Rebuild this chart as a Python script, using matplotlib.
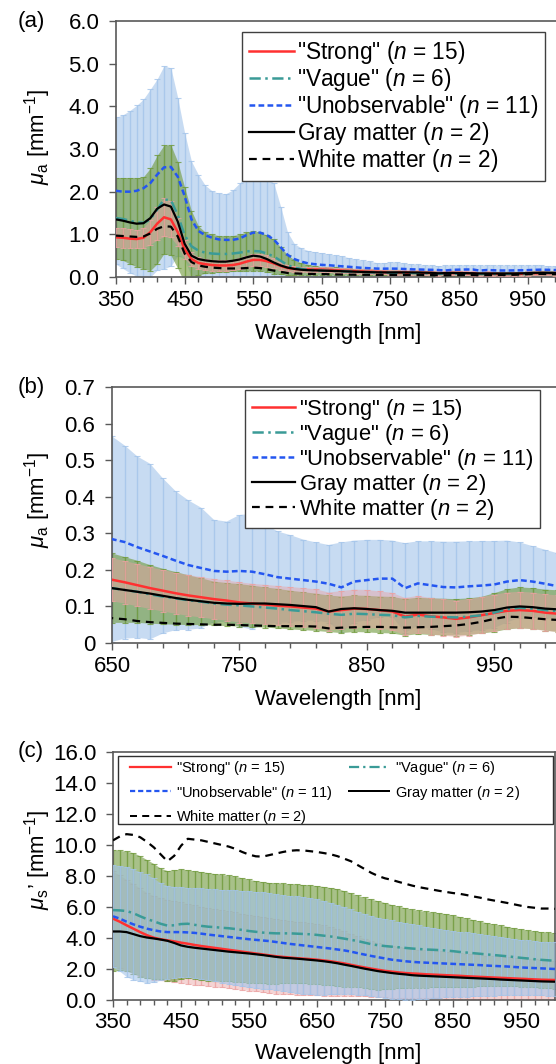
import numpy as np
import matplotlib
matplotlib.use("Agg")
import matplotlib.pyplot as plt
from matplotlib.lines import Line2D
from matplotlib.patches import Rectangle
from matplotlib.ticker import FixedLocator, FuncFormatter

plt.rcParams['font.family'] = ['Liberation Sans', 'DejaVu Sans']
plt.rcParams['mathtext.fontset'] = 'custom'
plt.rcParams['mathtext.rm'] = 'Liberation Sans'
plt.rcParams['mathtext.it'] = 'Liberation Sans:italic'

# DATA (10 nm steps from 350 to 1000 nm)
wavelength = np.arange(350, 1001, 10)

# absorption coefficient mu_a [mm^-1]
mua_strong = [0.93, 0.92, 0.90, 0.89, 0.92, 1.05, 1.25, 1.40, 1.35, 1.05,
              0.65, 0.42, 0.33, 0.30, 0.28, 0.27, 0.27, 0.28, 0.31, 0.36,
              0.40, 0.40, 0.37, 0.32, 0.26, 0.21, 0.19, 0.18, 0.177, 0.175,
              0.173, 0.166, 0.158, 0.150, 0.143, 0.136, 0.130, 0.125, 0.120, 0.116,
              0.111, 0.108, 0.105, 0.102, 0.100, 0.097, 0.094, 0.086, 0.090, 0.094,
              0.093, 0.090, 0.086, 0.072, 0.078, 0.073, 0.070, 0.066, 0.070, 0.076,
              0.082, 0.088, 0.090, 0.088, 0.083, 0.080]
mua_strong_sd = [0.23, 0.23, 0.22, 0.22, 0.24, 0.29, 0.38, 0.45, 0.42, 0.33,
                 0.22, 0.16, 0.14, 0.13, 0.13, 0.12, 0.12, 0.12, 0.13, 0.14,
                 0.15, 0.15, 0.14, 0.12, 0.10, 0.08, 0.07, 0.065, 0.062, 0.060,
                 0.059, 0.058, 0.058, 0.057, 0.057, 0.056, 0.056, 0.055, 0.055, 0.055,
                 0.055, 0.054, 0.054, 0.054, 0.053, 0.053, 0.053, 0.052, 0.052, 0.052,
                 0.052, 0.051, 0.051, 0.051, 0.051, 0.050, 0.050, 0.050, 0.050, 0.050,
                 0.050, 0.050, 0.050, 0.050, 0.050, 0.050]
mua_vague = [1.38, 1.36, 1.32, 1.28, 1.27, 1.35, 1.58, 1.82, 1.80, 1.45,
             0.98, 0.72, 0.62, 0.57, 0.55, 0.54, 0.54, 0.55, 0.57, 0.60,
             0.61, 0.60, 0.55, 0.48, 0.38, 0.28, 0.22, 0.19, 0.17, 0.16,
             0.150, 0.145, 0.140, 0.133, 0.127, 0.122, 0.117, 0.113, 0.108, 0.105,
             0.103, 0.100, 0.097, 0.094, 0.090, 0.087, 0.084, 0.080, 0.077, 0.080,
             0.079, 0.077, 0.076, 0.070, 0.074, 0.072, 0.071, 0.070, 0.072, 0.076,
             0.083, 0.092, 0.096, 0.094, 0.090, 0.087]
mua_vague_sd = [0.95, 0.97, 1.01, 1.04, 1.08, 1.20, 1.27, 1.27, 1.29, 1.25,
                1.12, 0.83, 0.58, 0.48, 0.45, 0.43, 0.42, 0.42, 0.43, 0.45,
                0.46, 0.45, 0.43, 0.40, 0.32, 0.24, 0.18, 0.14, 0.12, 0.105,
                0.095, 0.090, 0.085, 0.080, 0.076, 0.072, 0.068, 0.064, 0.060, 0.059,
                0.058, 0.057, 0.055, 0.054, 0.053, 0.052, 0.051, 0.050, 0.050, 0.050,
                0.050, 0.050, 0.050, 0.050, 0.050, 0.050, 0.050, 0.050, 0.050, 0.050,
                0.053, 0.055, 0.056, 0.056, 0.056, 0.057]
mua_unobs = [2.02, 2.00, 2.00, 2.02, 2.08, 2.20, 2.40, 2.57, 2.58, 2.35,
             1.90, 1.35, 1.08, 0.98, 0.92, 0.88, 0.87, 0.87, 0.90, 0.98,
             1.04, 1.04, 0.98, 0.88, 0.70, 0.52, 0.42, 0.36, 0.32, 0.30,
             0.284, 0.276, 0.262, 0.250, 0.238, 0.225, 0.213, 0.205, 0.197, 0.195,
             0.197, 0.195, 0.188, 0.180, 0.176, 0.172, 0.168, 0.162, 0.152, 0.168,
             0.172, 0.176, 0.176, 0.150, 0.163, 0.158, 0.153, 0.152, 0.155, 0.157,
             0.160, 0.168, 0.172, 0.168, 0.162, 0.155]
mua_unobs_sd = [1.72, 1.80, 1.90, 2.00, 2.09, 2.20, 2.24, 2.38, 2.32, 1.85,
                1.48, 1.36, 1.32, 1.17, 1.10, 1.08, 1.08, 1.17, 1.30, 1.40,
                1.41, 1.36, 1.34, 1.32, 0.95, 0.53, 0.36, 0.32, 0.30, 0.29,
                0.281, 0.264, 0.248, 0.240, 0.212, 0.190, 0.177, 0.165, 0.140, 0.137,
                0.153, 0.158, 0.137, 0.125, 0.119, 0.111, 0.107, 0.106, 0.123, 0.112,
                0.110, 0.106, 0.104, 0.123, 0.115, 0.120, 0.124, 0.125, 0.123, 0.122,
                0.119, 0.112, 0.103, 0.097, 0.093, 0.090]
mua_gray = [1.35, 1.32, 1.28, 1.25, 1.26, 1.38, 1.60, 1.70, 1.65, 1.30,
            0.78, 0.50, 0.42, 0.39, 0.37, 0.36, 0.36, 0.38, 0.41, 0.46,
            0.50, 0.48, 0.42, 0.34, 0.27, 0.22, 0.19, 0.17, 0.16, 0.155,
            0.150, 0.145, 0.140, 0.135, 0.129, 0.123, 0.118, 0.114, 0.110, 0.108,
            0.107, 0.108, 0.108, 0.106, 0.104, 0.101, 0.098, 0.086, 0.093, 0.095,
            0.093, 0.090, 0.088, 0.083, 0.083, 0.083, 0.083, 0.083, 0.084, 0.086,
            0.090, 0.097, 0.100, 0.098, 0.094, 0.092]
mua_white = [0.97, 0.96, 0.95, 0.94, 0.95, 1.02, 1.13, 1.19, 1.18, 0.95,
             0.55, 0.35, 0.27, 0.24, 0.22, 0.21, 0.20, 0.20, 0.20, 0.21,
             0.22, 0.21, 0.18, 0.15, 0.12, 0.095, 0.085, 0.078, 0.073, 0.070,
             0.068, 0.065, 0.060, 0.057, 0.055, 0.053, 0.052, 0.051, 0.050, 0.050,
             0.049, 0.048, 0.047, 0.046, 0.046, 0.046, 0.045, 0.040, 0.042, 0.043,
             0.044, 0.044, 0.043, 0.042, 0.043, 0.044, 0.046, 0.048, 0.052, 0.058,
             0.066, 0.072, 0.071, 0.068, 0.065, 0.063]

# reduced scattering coefficient mu_s' [mm^-1]
mus_strong = [5.25, 5.05, 4.82, 4.60, 4.38, 4.18, 4.02, 3.92, 3.85, 3.78,
              3.70, 3.63, 3.55, 3.48, 3.42, 3.36, 3.30, 3.24, 3.18, 3.12,
              3.06, 3.00, 2.94, 2.88, 2.82, 2.78, 2.74, 2.70, 2.67, 2.64,
              2.60, 2.55, 2.50, 2.43, 2.36, 2.27, 2.18, 2.10, 2.02, 1.95,
              1.88, 1.83, 1.78, 1.74, 1.71, 1.69, 1.66, 1.64, 1.62, 1.60,
              1.58, 1.56, 1.53, 1.51, 1.49, 1.47, 1.45, 1.43, 1.41, 1.39,
              1.37, 1.35, 1.33, 1.31, 1.30, 1.29]
mus_strong_sd = [3.05, 3.00, 2.95, 2.90, 2.82, 2.75, 2.70, 2.66, 2.63, 2.61,
                 2.60, 2.58, 2.56, 2.54, 2.52, 2.50, 2.49, 2.48, 2.47, 2.46,
                 2.45, 2.44, 2.43, 2.42, 2.41, 2.40, 2.38, 2.36, 2.34, 2.32,
                 2.30, 2.26, 2.21, 2.15, 2.08, 2.00, 1.93, 1.86, 1.80, 1.75,
                 1.70, 1.67, 1.64, 1.61, 1.58, 1.56, 1.54, 1.53, 1.52, 1.51,
                 1.50, 1.48, 1.46, 1.44, 1.42, 1.40, 1.38, 1.36, 1.34, 1.33,
                 1.32, 1.30, 1.29, 1.27, 1.26, 1.25]
mus_vague = [5.80, 5.78, 5.74, 5.60, 5.40, 5.22, 5.08, 4.92, 4.80, 4.82,
             4.90, 4.92, 4.85, 4.78, 4.73, 4.70, 4.66, 4.63, 4.58, 4.52,
             4.45, 4.40, 4.35, 4.32, 4.30, 4.30, 4.30, 4.28, 4.26, 4.24,
             4.20, 4.15, 4.10, 4.03, 3.96, 3.88, 3.80, 3.70, 3.60, 3.53,
             3.48, 3.44, 3.40, 3.36, 3.32, 3.29, 3.26, 3.24, 3.22, 3.19,
             3.15, 3.10, 3.06, 3.02, 2.98, 2.94, 2.90, 2.86, 2.82, 2.77,
             2.72, 2.68, 2.63, 2.59, 2.56, 2.53]
mus_vague_sd = [3.90, 3.87, 3.86, 3.90, 3.90, 3.83, 3.72, 3.58, 3.55, 3.58,
                3.55, 3.48, 3.47, 3.50, 3.49, 3.45, 3.44, 3.42, 3.40, 3.36,
                3.33, 3.30, 3.28, 3.26, 3.25, 3.22, 3.20, 3.20, 3.19, 3.18,
                3.18, 3.17, 3.15, 3.15, 3.09, 3.02, 2.95, 2.92, 2.90, 2.87,
                2.80, 2.71, 2.65, 2.59, 2.53, 2.49, 2.46, 2.42, 2.40, 2.38,
                2.33, 2.28, 2.22, 2.16, 2.10, 2.04, 2.00, 1.96, 1.92, 1.88,
                1.86, 1.82, 1.82, 1.81, 1.80, 1.80]
mus_unobs = [5.40, 5.25, 5.05, 4.88, 4.73, 4.60, 4.50, 4.42, 4.38, 4.38,
             4.38, 4.36, 4.33, 4.28, 4.22, 4.17, 4.12, 4.07, 4.02, 3.97,
             3.92, 3.88, 3.84, 3.80, 3.74, 3.68, 3.62, 3.57, 3.52, 3.47,
             3.42, 3.37, 3.32, 3.26, 3.20, 3.12, 3.02, 2.93, 2.84, 2.76,
             2.68, 2.60, 2.55, 2.50, 2.46, 2.43, 2.41, 2.39, 2.37, 2.35,
             2.33, 2.31, 2.29, 2.27, 2.25, 2.22, 2.20, 2.18, 2.16, 2.13,
             2.10, 2.08, 2.06, 2.04, 2.02, 2.00]
mus_unobs_sd = [3.30, 3.40, 3.55, 3.57, 3.52, 3.50, 3.35, 3.13, 3.00, 2.94,
                2.92, 2.89, 2.89, 2.92, 2.95, 2.97, 3.00, 3.03, 3.06, 3.09,
                3.11, 3.12, 3.13, 3.10, 3.08, 3.08, 3.10, 3.11, 3.12, 3.11,
                3.08, 3.03, 2.96, 2.89, 2.80, 2.73, 2.68, 2.63, 2.59, 2.56,
                2.54, 2.53, 2.49, 2.47, 2.44, 2.39, 2.33, 2.27, 2.21, 2.15,
                2.12, 2.09, 2.07, 2.04, 2.00, 1.96, 1.92, 1.88, 1.84, 1.82,
                1.80, 1.77, 1.74, 1.73, 1.74, 1.75]
mus_gray = [4.42, 4.42, 4.38, 4.25, 4.12, 4.03, 3.97, 3.90, 3.82, 3.68,
            3.52, 3.43, 3.37, 3.32, 3.27, 3.22, 3.17, 3.12, 3.08, 3.04,
            3.00, 2.95, 2.90, 2.84, 2.78, 2.73, 2.70, 2.67, 2.63, 2.59,
            2.55, 2.50, 2.44, 2.37, 2.28, 2.20, 2.11, 2.02, 1.94, 1.86,
            1.80, 1.74, 1.69, 1.65, 1.60, 1.57, 1.55, 1.53, 1.51, 1.49,
            1.47, 1.45, 1.43, 1.41, 1.39, 1.37, 1.35, 1.32, 1.30, 1.28,
            1.26, 1.24, 1.22, 1.20, 1.19, 1.18]
mus_white = [10.30, 10.55, 10.70, 10.65, 10.50, 10.20, 9.85, 9.40, 8.95, 9.30,
             9.95, 10.40, 10.35, 10.30, 10.20, 10.10, 10.00, 9.90, 9.75, 9.55,
             9.38, 9.27, 9.25, 9.35, 9.45, 9.55, 9.63, 9.66, 9.65, 9.60,
             9.55, 9.48, 9.40, 9.28, 9.12, 8.95, 8.70, 8.45, 8.20, 8.00,
             7.85, 7.75, 7.62, 7.50, 7.38, 7.28, 7.20, 7.12, 7.04, 6.97,
             6.90, 6.85, 6.77, 6.68, 6.60, 6.50, 6.42, 6.34, 6.26, 6.17,
             6.08, 6.00, 5.95, 5.90, 5.90, 5.88]

labels = ['"Strong" ($n$ = 15)', '"Vague" ($n$ = 6)', '"Unobservable" ($n$ = 11)',
          'Gray matter ($n$ = 2)', 'White matter ($n$ = 2)']

# STYLES
W, H = 556, 1064
line_styles = [
    dict(color='#ff3030', ls='-', lw=1.8),
    dict(color='#3a9b97', ls=(0, (4.5, 1.8, 1, 1.8)), lw=1.8),
    dict(color='#2456f0', ls=(0, (2.3, 1.3)), lw=1.8),
    dict(color='black', ls='-', lw=1.6),
    dict(color='black', ls=(0, (3.5, 2.6)), lw=1.6),
]
band_colors = {'strong': '#eba1a1', 'vague': '#6f993a', 'unobs': '#a3c4ea'}
band_alpha = {'strong': 0.45, 'vague': 0.6, 'unobs': 0.6}
spine_col = '#595959'

fig = plt.figure(figsize=(W / 100, H / 100), dpi=100)


def px_axes(left, top, right, bottom):
    return fig.add_axes([left / W, 1 - bottom / H, (right - left) / W, (bottom - top) / H])


def band(ax, mean, sd, key, z):
    m = np.array(mean)
    s = np.array(sd)
    c = band_colors[key]
    ax.fill_between(wavelength, m - s, m + s, color=c, alpha=band_alpha[key],
                    lw=0, zorder=z)
    ax.errorbar(wavelength, mean, yerr=sd, fmt='none', ecolor=c, elinewidth=1.0,
                capsize=2.5, capthick=0.8, alpha=0.8, zorder=z)


def lines(ax, means):
    for m, st in zip(means, line_styles):
        ax.plot(wavelength, m, zorder=6, solid_capstyle='butt', **st)


def style(ax, xlim, ylim, yticks, yfmt, xmajor):
    ax.set_xlim(*xlim)
    ax.set_ylim(*ylim)
    ax.xaxis.set_major_locator(FixedLocator(xmajor))
    ax.xaxis.set_minor_locator(FixedLocator(np.arange(xlim[0], 1001, 20)))
    ax.yaxis.set_major_locator(FixedLocator(yticks))
    ax.yaxis.set_major_formatter(FuncFormatter(yfmt))
    for s in ax.spines.values():
        s.set_color(spine_col)
        s.set_linewidth(1.2)
    ax.tick_params(which='major', direction='out', length=5, width=1.0,
                   color=spine_col, labelsize=16)
    ax.tick_params(which='minor', direction='out', length=3.5, width=1.0, color=spine_col)
    ax.tick_params(axis='y', pad=7)
    ax.tick_params(axis='x', pad=4)


def legend_handles(lw_scale=1.0):
    return [Line2D([], [], color=st['color'], ls=st['ls'], lw=st['lw'] * lw_scale)
            for st in line_styles]


# (a) mu_a full range
axA = px_axes(116, 21, 562, 277)
band(axA, mua_unobs, mua_unobs_sd, 'unobs', 1)
band(axA, mua_vague, mua_vague_sd, 'vague', 2)
band(axA, mua_strong, mua_strong_sd, 'strong', 3)
lines(axA, [mua_strong, mua_vague, mua_unobs, mua_gray, mua_white])
style(axA, (350, 1000), (0, 6), np.arange(0, 6.01, 1.0), lambda v, p: f'{v:.1f}',
      np.arange(350, 1001, 100))

# (b) mu_a zoom 650-1000 nm
axB = px_axes(112, 387, 558, 643)
band(axB, mua_unobs, mua_unobs_sd, 'unobs', 1)
band(axB, mua_vague, mua_vague_sd, 'vague', 2)
band(axB, mua_strong, mua_strong_sd, 'strong', 3)
lines(axB, [mua_strong, mua_vague, mua_unobs, mua_gray, mua_white])
style(axB, (650, 1000), (0, 0.7), np.arange(0, 0.701, 0.1),
      lambda v, p: '0' if abs(v) < 1e-9 else f'{v:.1f}', np.arange(650, 1001, 100))

# (c) mu_s'
axC = px_axes(113, 752, 555, 1000)
band(axC, mus_strong, mus_strong_sd, 'strong', 1)
band(axC, mus_vague, mus_vague_sd, 'vague', 2)
band(axC, mus_unobs, mus_unobs_sd, 'unobs', 3)
lines(axC, [mus_strong, mus_vague, mus_unobs, mus_gray, mus_white])
style(axC, (350, 1000), (0, 16), np.arange(0, 16.01, 2.0), lambda v, p: f'{v:.1f}',
      np.arange(350, 1001, 100))

# axis labels
for ax, ylab, ycen, xcen in [
        (axA, r'$\mu_\mathrm{a}$ [mm$^{-1}$]', 137, 333),
        (axB, r'$\mu_\mathrm{a}$ [mm$^{-1}$]', 500, 700),
        (axC, r"$\mu_\mathrm{s}$’ [mm$^{-1}$]", 860, 1053)]:
    ax.set_ylabel(ylab, fontsize=16, va='center', ha='center')
    ax.yaxis.set_label_coords(38 / W, 1 - ycen / H, transform=fig.transFigure)
    ax.set_xlabel('Wavelength [nm]', fontsize=16, va='center', ha='center')
    ax.xaxis.set_label_coords(338 / W, 1 - xcen / H, transform=fig.transFigure)

for txt, yc in [('(a)', 21), ('(b)', 387), ('(c)', 752)]:
    fig.text(31 / W, 1 - yc / H, txt, fontsize=16, ha='center', va='center')

# legends
for ax, x0, y0, fs in [(axA, 242, 32, 16.3), (axB, 245, 390, 15.8)]:
    leg = ax.legend(legend_handles(), labels, loc='upper left',
                    bbox_to_anchor=(x0 / W, 1 - y0 / H), bbox_transform=fig.transFigure,
                    borderaxespad=0, fontsize=fs, frameon=True, fancybox=False,
                    edgecolor='#404040', framealpha=1, handlelength=2.0,
                    handletextpad=0.15, labelspacing=0.0, borderpad=0.3)
    leg.get_frame().set_linewidth(1.0)
    leg.set_zorder(10)

hc = legend_handles(0.9)
order = [0, 2, 4, 1, 3]
legC = axC.legend([hc[i] for i in order], [labels[i] for i in order], loc='upper left',
                  bbox_to_anchor=(130 / W, 1 - 759 / H), bbox_transform=fig.transFigure,
                  borderaxespad=0, borderpad=0, fontsize=10.5, ncol=2, frameon=False,
                  handlelength=2.8, handletextpad=0.35, columnspacing=1.1,
                  labelspacing=0.45)
fig.add_artist(Rectangle((118 / W, 1 - 824 / H), (553 - 118) / W, (824 - 756) / H,
                         transform=fig.transFigure, fill=False, edgecolor='#303030',
                         lw=1.0))

plt.savefig('out.png', dpi=100)
